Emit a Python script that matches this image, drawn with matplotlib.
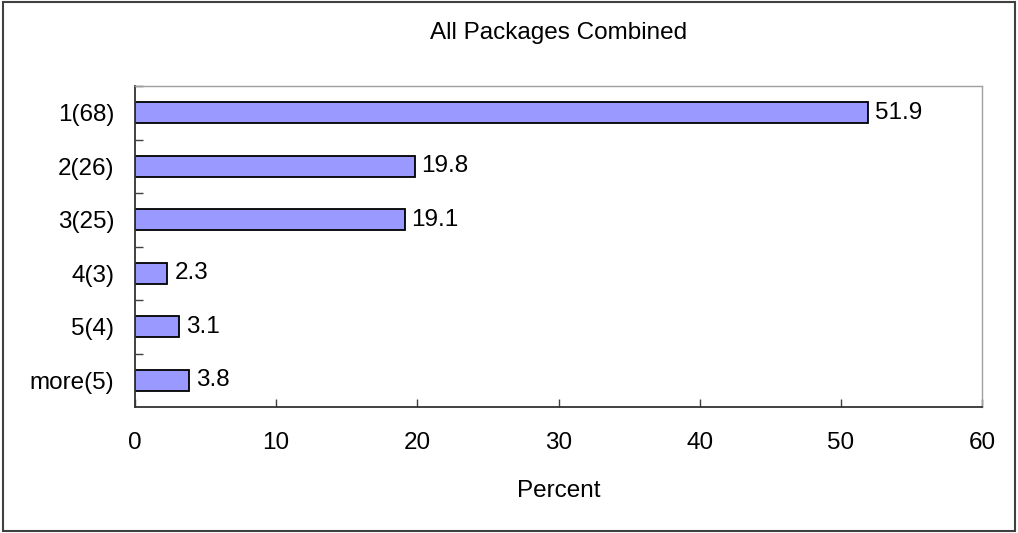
import matplotlib.pyplot as plt
from matplotlib.patches import Rectangle
from matplotlib.ticker import FixedLocator

plt.rcParams['font.family'] = ['Liberation Sans', 'DejaVu Sans']

# dati
categories = ["1(68)", "2(26)", "3(25)", "4(3)", "5(4)", "more(5)"]
percent = [51.9, 19.8, 19.1, 2.3, 3.1, 3.8]
xticks = [0, 10, 20, 30, 40, 50, 60]

fs = 17.5

fig = plt.figure(figsize=(10.18, 5.33), dpi=100)
ax = fig.add_axes([135 / 1018, 1 - 407 / 533, (982 - 135) / 1018, (407 - 86) / 533])

pos = list(range(len(categories)))
bars = ax.barh(pos, percent, height=0.4, color="#9999FF", edgecolor="black", linewidth=1.3)
for b, v in zip(bars, percent):
    ax.annotate(f"{v}", (b.get_width(), b.get_y() + b.get_height() / 2),
                xytext=(5, 0), textcoords="offset points", va="center", ha="left", fontsize=fs)

ax.set_xlim(0, 60)
ax.set_ylim(len(categories) - 0.5, -0.5)
ax.set_xticks(xticks)
ax.set_yticks(pos)
ax.set_yticklabels(categories)
ax.yaxis.set_minor_locator(FixedLocator([p + 0.5 for p in pos[:-1]] + [-0.5]))

ax.tick_params(axis="x", direction="in", length=6, width=1, color="#404040", pad=18, labelsize=fs)
ax.tick_params(axis="y", which="major", length=0, pad=15, labelsize=fs)
ax.tick_params(axis="y", which="minor", direction="in", length=6, width=1, color="#404040")

for s in ["left", "bottom"]:
    ax.spines[s].set_color("#333333")
    ax.spines[s].set_linewidth(1.3)
for s in ["top", "right"]:
    ax.spines[s].set_color("#A0A0A0")
    ax.spines[s].set_linewidth(1)

ax.set_xlabel("Percent", fontsize=fs, labelpad=19)
fig.text((135 + 982) / 2 / 1018, 1 - 33 / 533, "All Packages Combined", ha="center", va="center", fontsize=fs)

fig.patches.append(Rectangle((3 / 1018, 2 / 533), 1012 / 1018, 529 / 533, transform=fig.transFigure,
                             fill=False, edgecolor="#404040", linewidth=1.5))

fig.savefig("out.png", dpi=100)
